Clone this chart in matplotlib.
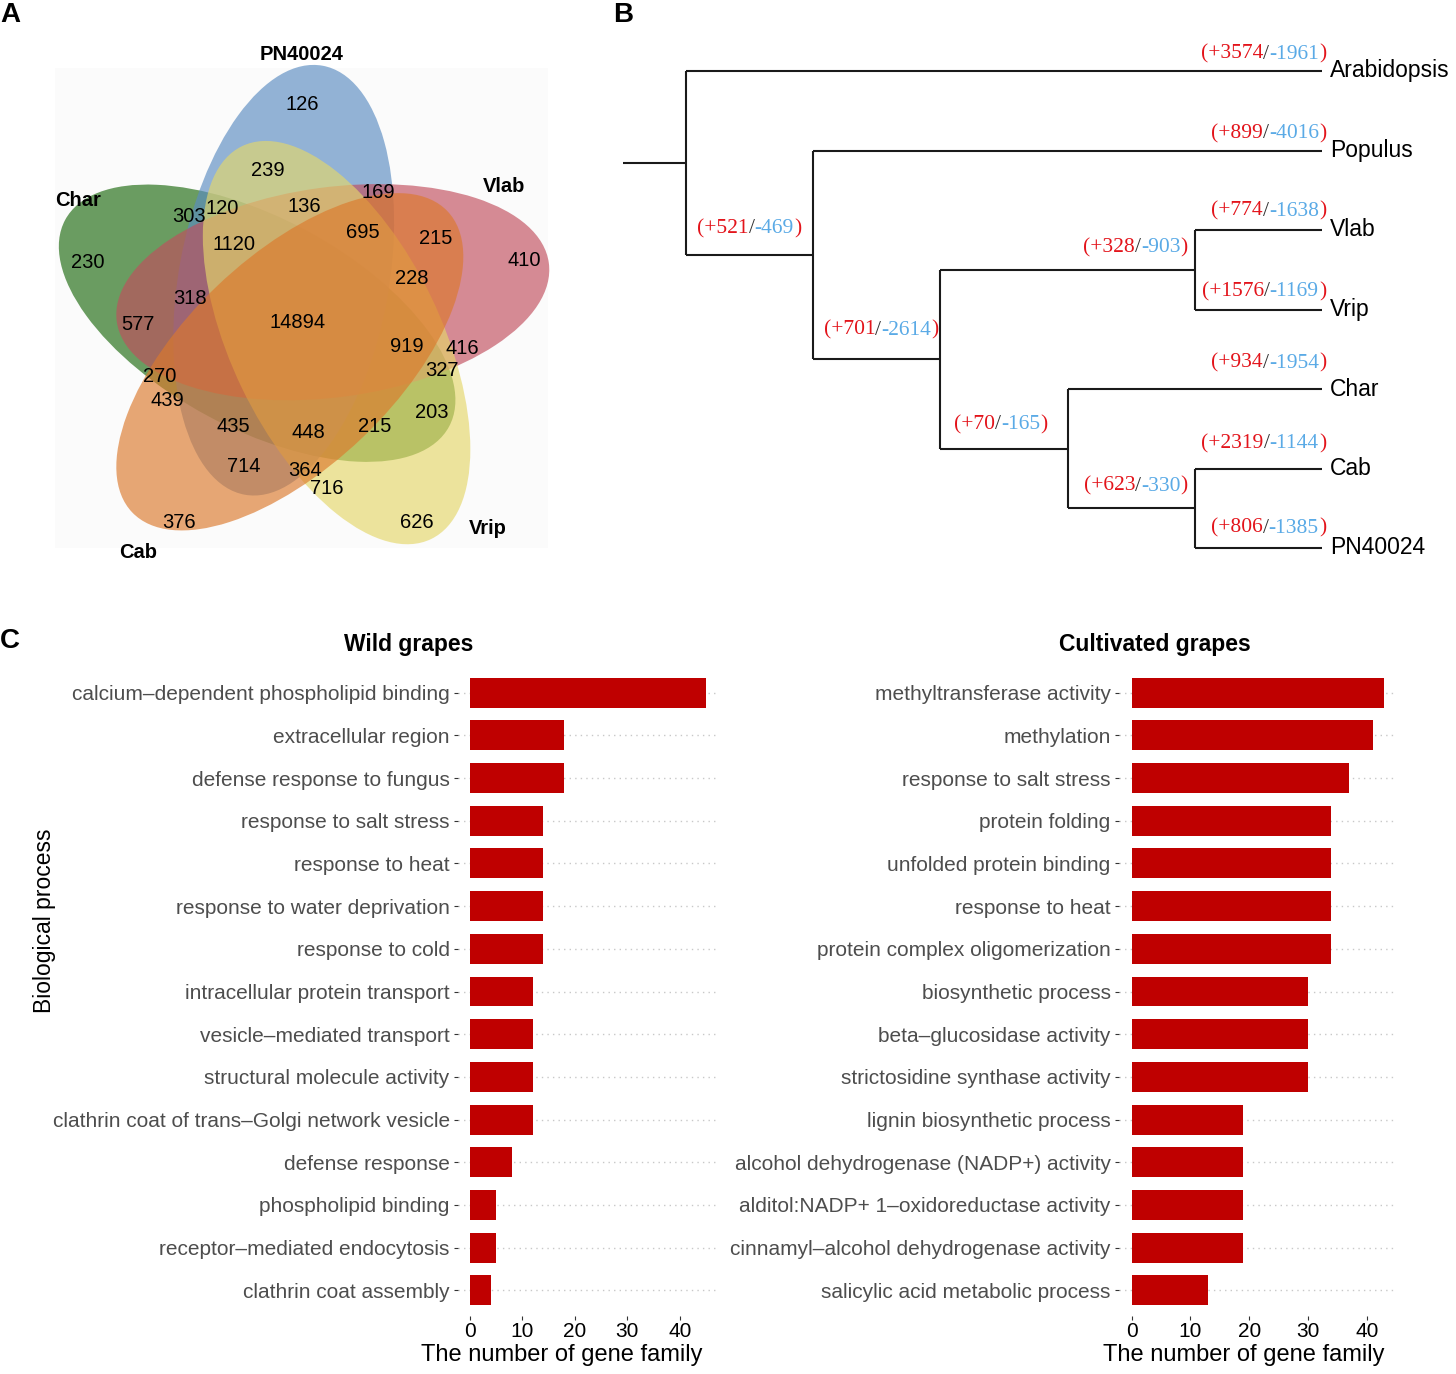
import numpy as np
import matplotlib
matplotlib.use("Agg")
import matplotlib.pyplot as plt
from matplotlib.patches import Ellipse, Rectangle
from matplotlib.offsetbox import TextArea, HPacker, AnnotationBbox

plt.rcParams['font.family'] = ['Liberation Sans', 'DejaVu Sans']

# ---------------- datos ----------------
# A: diagrama de Venn
conjuntos = ["PN40024", "Vlab", "Vrip", "Cab", "Char"]
colores_venn = ["#5A8CC1", "#C14E5D", "#E5D76A", "#DC792C", "#1D6A0E"]
conteos = [126, 239, 169, 303, 120, 136, 1120, 695, 215, 230, 410, 228, 318,
           577, 14894, 919, 416, 327, 270, 439, 203, 435, 448, 215, 714, 364,
           716, 376, 626]

# B: arbol con ganancias / perdidas de familias
especies = ["Arabidopsis", "Populus", "Vlab", "Vrip", "Char", "Cab", "PN40024"]
hijos = {"n1": ("Arabidopsis", "n2"), "n2": ("Populus", "n3"),
         "n3": ("n4", "n5"), "n4": ("Vlab", "Vrip"),
         "n5": ("Char", "n6"), "n6": ("Cab", "PN40024")}
ganancia = {"Arabidopsis": 3574, "Populus": 899, "Vlab": 774, "Vrip": 1576,
            "Char": 934, "Cab": 2319, "PN40024": 806,
            "n2": 521, "n3": 701, "n4": 328, "n5": 70, "n6": 623}
perdida = {"Arabidopsis": 1961, "Populus": 4016, "Vlab": 1638, "Vrip": 1169,
           "Char": 1954, "Cab": 1144, "PN40024": 1385,
           "n2": 469, "n3": 2614, "n4": 903, "n5": 165, "n6": 330}

# C: enriquecimiento GO
silvestres = ["calcium–dependent phospholipid binding", "extracellular region",
              "defense response to fungus", "response to salt stress",
              "response to heat", "response to water deprivation",
              "response to cold", "intracellular protein transport",
              "vesicle–mediated transport", "structural molecule activity",
              "clathrin coat of trans–Golgi network vesicle", "defense response",
              "phospholipid binding", "receptor–mediated endocytosis",
              "clathrin coat assembly"]
valores_silvestres = [45, 18, 18, 14, 14, 14, 14, 12, 12, 12, 12, 8, 5, 5, 4]

cultivadas = ["methyltransferase activity", "methylation",
              "response to salt stress", "protein folding",
              "unfolded protein binding", "response to heat",
              "protein complex oligomerization", "biosynthetic process",
              "beta–glucosidase activity", "strictosidine synthase activity",
              "lignin biosynthetic process",
              "alcohol dehydrogenase (NADP+) activity",
              "alditol:NADP+ 1–oxidoreductase activity",
              "cinnamyl–alcohol dehydrogenase activity",
              "salicylic acid metabolic process"]
valores_cultivadas = [43, 41, 37, 34, 34, 34, 34, 30, 30, 30, 19, 19, 19, 19, 13]

# ---------------- posiciones (pixeles de la imagen) ----------------
W, H = 1456, 1374
pos_conteos = [(302, 104), (268, 171), (378, 192), (189, 217), (222, 209),
               (304, 206), (234, 244), (363, 232), (436, 238), (88, 262),
               (524, 260), (412, 278), (190, 298), (138, 325), (298, 322),
               (407, 346), (462, 348), (442, 370), (160, 377), (167, 400),
               (432, 412), (233, 427), (308, 432), (375, 426), (244, 467),
               (305, 471), (327, 488), (179, 522), (417, 522)]
pos_conjuntos = [(302, 55), (504, 186), (488, 529), (138, 553), (78, 200)]

fig = plt.figure(figsize=(W / 100, H / 100), dpi=100)


def fx(x):
    return x / W


def fy(y):
    return 1 - y / H


# ---------- panel superior en coordenadas de pixel ----------
arriba = fig.add_axes([0, 1 - 600 / H, 1, 600 / H])
arriba.set_xlim(0, W)
arriba.set_ylim(600, 0)
arriba.axis("off")

# fondo gris casi blanco del Venn
arriba.add_patch(Rectangle((55, 68), 493, 480, facecolor="#FBFBFB",
                           edgecolor="none", zorder=0))

# Venn de cinco elipses
centro = (300, 320)
dist, semi_a, semi_b = 43, 218, 105
orden = [4, 0, 1, 2, 3]   # verde, azul, rojo, amarillo, naranja
for k in orden:
    phi = np.radians(-112.3 + 72 * k)
    cx = centro[0] + dist * np.cos(phi)
    cy = centro[1] + dist * np.sin(phi)
    e = Ellipse((cx, cy), 2 * semi_a, 2 * semi_b, angle=-79.7 + 72 * k,
                facecolor=colores_venn[k], edgecolor="none", alpha=0.65)
    arriba.add_patch(e)

for n, (x, y) in zip(conteos, pos_conteos):
    arriba.text(x, y, str(n), ha="center", va="center", fontsize=14.5)
for nombre, (x, y) in zip(conjuntos, pos_conjuntos):
    arriba.text(x, y, nombre, ha="center", va="center", fontsize=14.5,
                fontweight="bold")

# Arbol
X_TIP, PASO, Y0, PASO_Y = 1322, 127.2, 71, 79.5
xs, ys = {}, {}


def altura(nodo):
    if nodo not in hijos:
        return 0
    return 1 + max(altura(h) for h in hijos[nodo])


def ubicar(nodo):
    if nodo in hijos:
        for h in hijos[nodo]:
            ubicar(h)
        ys[nodo] = (ys[hijos[nodo][0]] + ys[hijos[nodo][1]]) / 2
    else:
        ys[nodo] = Y0 + especies.index(nodo) * PASO_Y
    xs[nodo] = X_TIP - altura(nodo) * PASO


ubicar("n1")
lc = dict(color="#1a1a1a", lw=1.5, solid_capstyle="butt")
arriba.plot([xs["n1"] - 63, xs["n1"]], [ys["n1"], ys["n1"]], **lc)
for padre, (h1, h2) in hijos.items():
    arriba.plot([xs[padre], xs[padre]], [ys[h1], ys[h2]], **lc)
    for h in (h1, h2):
        arriba.plot([xs[padre], xs[h]], [ys[h], ys[h]], **lc)

for sp in especies:
    arriba.text(xs[sp] + 8, ys[sp], sp, ha="left", va="center", fontsize=16.5)

# desplazamientos de las etiquetas (dx respecto al extremo, dy hacia arriba)
ajuste = {"Arabidopsis": (4, 17), "Populus": (4, 17), "Vlab": (4, 19),
          "Vrip": (4, 18), "Char": (4, 26), "Cab": (4, 25), "PN40024": (4, 20),
          "n2": (-12, 26), "n3": (-2, 29), "n4": (-7, 22), "n5": (-20, 24),
          "n6": (-7, 22)}
rojo, azul = "#E3141B", "#5AAAE6"
fuente = dict(fontsize=15.5, family="Liberation Serif")
for nodo, (dx, dy) in ajuste.items():
    partes = [("(+%d" % ganancia[nodo], rojo), ("/", "#333333"),
              ("-%d" % perdida[nodo], azul), (")", rojo)]
    cajas = [TextArea(t, textprops=dict(color=c, **fuente)) for t, c in partes]
    paquete = HPacker(children=cajas, align="baseline", pad=0, sep=0)
    ab = AnnotationBbox(paquete, (xs[nodo] + dx, ys[nodo] - dy),
                        xycoords="data", box_alignment=(1, 0.5),
                        frameon=False, pad=0)
    arriba.add_artist(ab)

# ---------- panel C ----------
y_arriba, y_abajo = 667, 1316


def barras(izq, der, etiquetas, valores, xmax):
    ax = fig.add_axes([fx(izq), fy(y_abajo), (der - izq) / W,
                       (y_abajo - y_arriba) / H])
    y = np.arange(len(etiquetas))
    ax.barh(y, valores, height=0.7, color="#BF0000", zorder=2)
    ax.set_yticks(y)
    ax.set_yticklabels(etiquetas, fontsize=15, color="#4D4D4D")
    ax.set_ylim(len(etiquetas) - 0.4, -0.6)
    ax.set_xlim(-xmax * 0.05 / 1.05, xmax)
    ax.set_xticks([0, 10, 20, 30, 40])
    ax.tick_params(axis="x", labelsize=15, length=3, pad=1, color="#333333")
    ax.tick_params(axis="y", length=3, pad=3, color="#333333")
    for s in ax.spines.values():
        s.set_visible(False)
    ax.grid(axis="y", linestyle=(0, (1, 3)), color="#C8C8C8", lw=1)
    ax.set_axisbelow(True)
    return ax


barras(458, 718, silvestres, valores_silvestres, 47.25)
barras(1119, 1397, cultivadas, valores_cultivadas, 45.15)

fig.text(fx(409), fy(645), "Wild grapes", ha="center", va="center",
         fontsize=16.5, fontweight="bold")
fig.text(fx(1155), fy(645), "Cultivated grapes", ha="center", va="center",
         fontsize=16.5, fontweight="bold")
fig.text(fx(562), fy(1355), "The number of gene family", ha="center",
         va="center", fontsize=17)
fig.text(fx(1244), fy(1355), "The number of gene family", ha="center",
         va="center", fontsize=17)
fig.text(fx(45), fy(921), "Biological process", ha="center", va="center",
         rotation=90, fontsize=16.5)

for letra, (x, y) in zip("ABC", [(10, 15), (623, 15), (10, 641)]):
    fig.text(fx(x), fy(y), letra, ha="center", va="center", fontsize=20,
             fontweight="bold")

fig.savefig("out.png", dpi=100)
